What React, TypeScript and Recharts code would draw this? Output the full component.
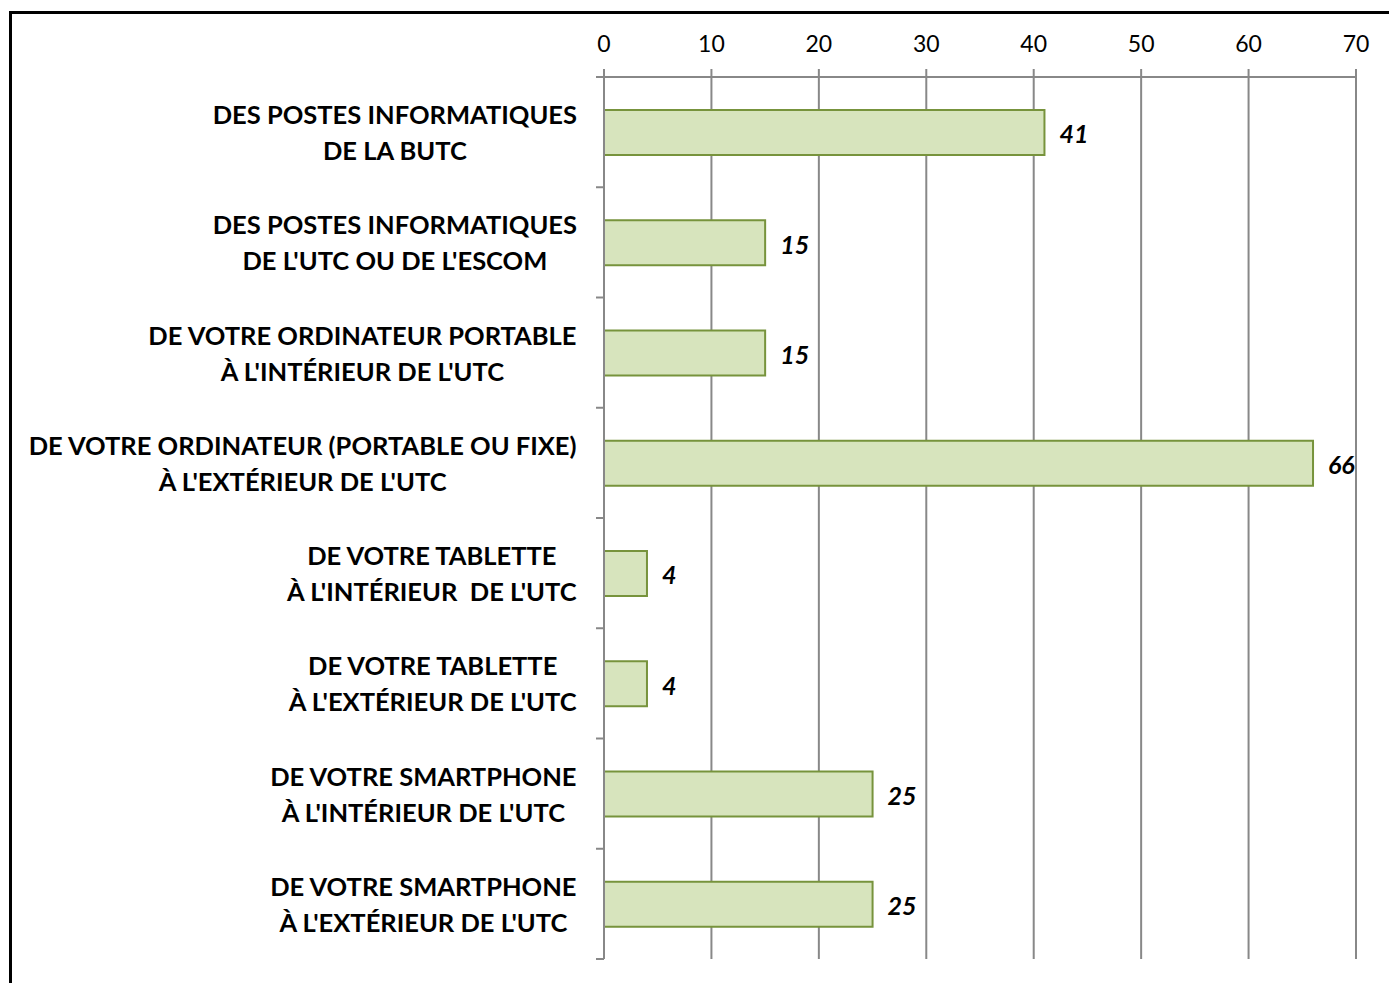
import React from "react";
import { BarChart, Bar, XAxis, YAxis, CartesianGrid, LabelList } from "recharts";

// categories (line breaks as in the original labels)
const categories = [
  "DES POSTES INFORMATIQUES\nDE LA BUTC",
  "DES POSTES INFORMATIQUES\nDE L'UTC OU DE L'ESCOM",
  "DE VOTRE ORDINATEUR PORTABLE\nÀ L'INTÉRIEUR DE L'UTC",
  "DE VOTRE ORDINATEUR (PORTABLE OU FIXE)\nÀ L'EXTÉRIEUR DE L'UTC",
  "DE VOTRE TABLETTE\nÀ L'INTÉRIEUR  DE L'UTC",
  "DE VOTRE TABLETTE\nÀ L'EXTÉRIEUR DE L'UTC",
  "DE VOTRE SMARTPHONE\nÀ L'INTÉRIEUR DE L'UTC",
  "DE VOTRE SMARTPHONE\nÀ L'EXTÉRIEUR DE L'UTC",
];
const values = [41, 15, 15, 66, 4, 4, 25, 25];
const xTicks = [0, 10, 20, 30, 40, 50, 60, 70];
const bandTicks = [0, 1, 2, 3, 4, 5, 6, 7, 8];

// pos = middle of each category band, used by the hidden boundary-tick axis
const data = categories.map((c, i) => ({ name: c, value: values[i], pos: i + 0.5 }));

const FONT = "Lato, 'Open Sans', sans-serif";
const LABEL_SIZE = 25.5;
const GRAY = "#888888";

const ctx = typeof document !== "undefined" ? document.createElement("canvas").getContext("2d") : null;
function textWidth(s: string, font: string) {
  if (!ctx) return s.length * 14;
  ctx.font = font;
  return ctx.measureText(s).width;
}

// two-line label, lines centred on each other, block right aligned at x
function CategoryTick(props: any) {
  const { x, y, payload } = props;
  const lines = String(payload.value).split("\n");
  const font = `bold ${LABEL_SIZE}px Lato`;
  const maxW = Math.max(...lines.map((l) => textWidth(l, font)));
  const cx = x - maxW / 2;
  const lh = 36;
  return (
    <g>
      {lines.map((l, i) => (
        <text
          key={i}
          x={cx}
          y={y + (i - (lines.length - 1) / 2) * lh}
          textAnchor="middle"
          dominantBaseline="central"
          fontFamily={FONT}
          fontWeight="bold"
          fontSize={LABEL_SIZE}
          fill="#000"
          style={{ whiteSpace: "pre" }}
        >
          {l}
        </text>
      ))}
    </g>
  );
}

const EmptyTick = () => <g />;

export default function App() {
  return (
    <div style={{ position: "fixed", left: 0, top: 0, width: 1389, height: 983, overflow: "hidden", background: "#fff" }}>
      <div
        style={{
          position: "absolute",
          left: 9,
          top: 11,
          width: 1500,
          height: 1100,
          borderLeft: "3px solid #000",
          borderTop: "3px solid #000",
        }}
      />
      <div style={{ position: "absolute", left: 0, top: 0 }}>
        <BarChart
          width={1389}
          height={983}
          data={data}
          layout="vertical"
          barSize={45}
          margin={{ top: 0, right: 33, bottom: 24, left: 0 }}
        >
          <CartesianGrid horizontal={false} stroke={GRAY} strokeWidth={2} yAxisId="cat" />
          <XAxis
            type="number"
            orientation="top"
            domain={[0, 70]}
            ticks={xTicks}
            height={77}
            tickSize={8}
            tickMargin={17}
            axisLine={{ stroke: GRAY, strokeWidth: 2 }}
            tickLine={{ stroke: GRAY, strokeWidth: 2 }}
            tick={{ fill: "#000", fontSize: 23, fontFamily: FONT }}
          />
          <YAxis
            yAxisId="b"
            type="number"
            dataKey="pos"
            domain={[0, 8]}
            allowDataOverflow
            ticks={bandTicks}
            width={8}
            tickSize={8}
            tick={<EmptyTick />}
            axisLine={{ stroke: GRAY, strokeWidth: 2 }}
            tickLine={{ stroke: GRAY, strokeWidth: 2 }}
          />
          <YAxis
            yAxisId="cat"
            type="category"
            dataKey="name"
            width={596}
            axisLine={false}
            tickLine={false}
            tickSize={0}
            tickMargin={19}
            interval={0}
            tick={<CategoryTick />}
          />
          <Bar
            yAxisId="cat"
            dataKey="value"
            fill="#D7E4BD"
            stroke="#77933C"
            strokeWidth={2}
            isAnimationActive={false}
          >
            <LabelList
              dataKey="value"
              position="right"
              offset={15}
              dy={2}
              fill="#000"
              fontSize={25}
              fontWeight="bold"
              fontStyle="italic"
              fontFamily={FONT}
            />
          </Bar>
        </BarChart>
      </div>
    </div>
  );
}
